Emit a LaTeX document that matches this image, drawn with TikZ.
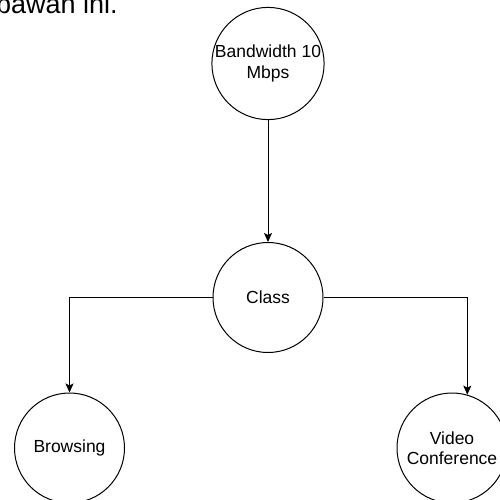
\documentclass[tikz,border=0pt]{standalone}
\usepackage{fontspec}
\setmainfont{Liberation Sans}
\usetikzlibrary{arrows.meta}
\begin{document}
\begin{tikzpicture}[x=1pt,y=-1pt,
  circ/.style={draw, line width=1pt, circle, minimum size=110pt, inner sep=0pt, align=center,
    font=\fontsize{17.5}{20.5}\selectfont, text=black},
  conn/.style={line width=1pt, -{Stealth[length=9pt,width=8pt,inset=2pt]}}]
\useasboundingbox (0,0) rectangle (500,499);
\node[anchor=base west, inner sep=0pt, font=\fontsize{27}{30}\selectfont] (cap) at (-4,13.5) {bawah ini.};
\node[circ] (bw) at (268,63.5) {Bandwidth 10\\Mbps};
\node[circ] (cls) at (268,297.5) {Class};
\node[circ] (br) at (69.5,448) {Browsing};
\node[circ] (vc) at (452,448) {Video\\Conference};
\draw[conn] (bw) -- (cls);
\draw[conn] (cls.west) -| (br.north);
\draw[conn] (cls.east) -| (vc.74);
\end{tikzpicture}
\end{document}
